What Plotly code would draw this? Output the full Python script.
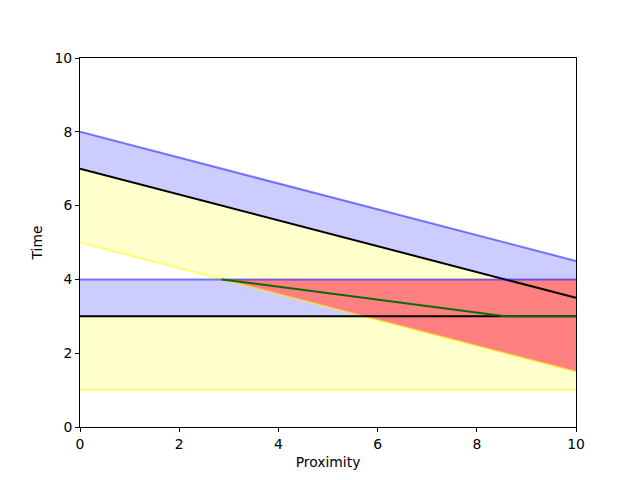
import plotly.graph_objects as go
import numpy as np

# Data
x_ends = [0, 10]
upper_diag = [8, 4.5]
mid_diag = [7, 3.5]
lower_diag = [5, 1.5]
upper_level = 4
mid_level = 3
lower_level = 1
green_x = [2.857, 8.571, 10]
green_y = [4, 3, 3]

BLUE_FILL = "rgba(0,0,255,0.2)"
YELLOW_FILL = "rgba(255,255,0,0.2)"
BLUE_LINE = "rgba(0,0,255,0.5)"
YELLOW_LINE = "rgba(255,255,0,0.5)"
RED_FILL = "rgb(255,128,128)"

fig = go.Figure()

def poly(xs, ys, color):
    fig.add_trace(go.Scatter(x=xs, y=ys, fill="toself", fillcolor=color,
                             mode="none", hoverinfo="skip", showlegend=False))

x0, x1 = x_ends
# Diagonal bands
poly([x0, x1, x1, x0], [upper_diag[0], upper_diag[1], mid_diag[1], mid_diag[0]], BLUE_FILL)
poly([x0, x1, x1, x0], [mid_diag[0], mid_diag[1], lower_diag[1], lower_diag[0]], YELLOW_FILL)
# Horizontal bands
poly([x0, x1, x1, x0], [upper_level, upper_level, mid_level, mid_level], BLUE_FILL)
poly([x0, x1, x1, x0], [mid_level, mid_level, lower_level, lower_level], YELLOW_FILL)

# Overlap region (red): between upper_level and lower diagonal where diagonal < level
slope = (lower_diag[1] - lower_diag[0]) / (x1 - x0)
xc = x0 + (upper_level - lower_diag[0]) / slope
poly([xc, x1, x1], [upper_level, upper_level, lower_diag[1]], RED_FILL)

def line(xs, ys, color, w=2):
    fig.add_trace(go.Scatter(x=xs, y=ys, mode="lines", line=dict(color=color, width=w),
                             hoverinfo="skip", showlegend=False))

line(x_ends, upper_diag, BLUE_LINE)
line(x_ends, mid_diag, "black")
line(x_ends, lower_diag, YELLOW_LINE)
line(x_ends, [upper_level] * 2, BLUE_LINE)
line(x_ends, [mid_level] * 2, "black")
line(x_ends, [lower_level] * 2, YELLOW_LINE)
line(green_x, green_y, "#0a6a0a", 2)

font = dict(family="DejaVu Sans", size=13.9, color="black")
axis_common = dict(range=[0, 10], showgrid=False, zeroline=False, showline=True,
                   linecolor="black", linewidth=1, mirror=True, ticks="outside",
                   ticklen=4, tickwidth=1, tickcolor="black", tickfont=font,
                   tickvals=[0, 2, 4, 6, 8, 10])

fig.update_layout(
    width=640, height=480,
    margin=dict(l=80, r=64, t=58, b=53),
    paper_bgcolor="white", plot_bgcolor="white",
    font=font,
    xaxis=dict(**axis_common, title=dict(text="Proximity", font=font, standoff=6)),
    yaxis=dict(**axis_common, title=dict(text="Time", font=font, standoff=8)),
)

fig.write_html("out.html")
